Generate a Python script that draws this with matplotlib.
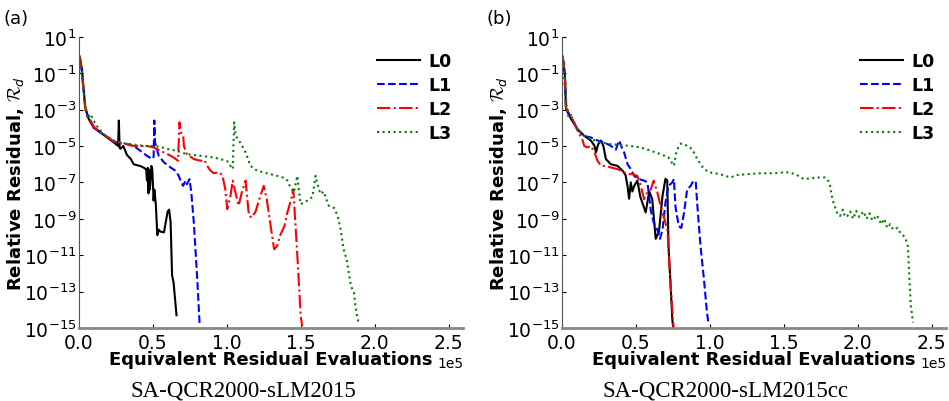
import numpy as np
import matplotlib
matplotlib.use('Agg')
import matplotlib.pyplot as plt

plt.rcParams['mathtext.fontset'] = 'custom'
plt.rcParams['mathtext.rm'] = 'DejaVu Sans'
plt.rcParams['mathtext.it'] = 'DejaVu Sans:italic'
plt.rcParams['mathtext.bf'] = 'DejaVu Sans:bold'
plt.rcParams['mathtext.cal'] = 'cmsy10'

# x in units of 1e5 residual evaluations, y as log10 of relative residual
# panel (a): SA-QCR2000-sLM2015
a_L0_x = [0.0, 0.01, 0.02, 0.043, 0.065, 0.1, 0.145, 0.19, 0.235, 0.265,
          0.27, 0.275, 0.28, 0.3, 0.325, 0.35, 0.37, 0.39, 0.415, 0.44,
          0.455, 0.46, 0.465, 0.47, 0.475, 0.48, 0.49, 0.495, 0.5, 0.505,
          0.51, 0.52, 0.53, 0.54, 0.55, 0.575, 0.6, 0.61, 0.62, 0.63,
          0.64, 0.66]
a_L0_y = [0.0, -0.3, -0.8, -2.9, -3.5, -4.0, -4.26, -4.53, -4.8, -5.0,
          -3.6, -5.1, -5.15, -5.0, -5.5, -5.7, -6.0, -6.05, -6.1, -6.2,
          -6.3, -6.9, -6.2, -7.6, -6.3, -7.4, -6.1, -6.2, -7.0, -8.0,
          -7.4, -8.2, -9.9, -9.6, -9.7, -9.75, -8.6, -8.5, -9.2, -12.1,
          -12.5, -14.3]
a_L1_x = [0.0, 0.01, 0.02, 0.043, 0.065, 0.1, 0.145, 0.19, 0.235, 0.28,
          0.325, 0.37, 0.415, 0.46, 0.495, 0.505, 0.51, 0.515, 0.52, 0.528,
          0.54, 0.575, 0.62, 0.653, 0.675, 0.687, 0.705, 0.72, 0.73, 0.748,
          0.76, 0.777, 0.8, 0.817]
a_L1_y = [0.0, -0.35, -0.9, -2.95, -3.45, -3.95, -4.25, -4.5, -4.75, -4.85,
          -4.9, -5.0, -5.26, -5.54, -5.72, -5.6, -3.6, -4.8, -5.0, -5.2,
          -5.54, -5.9, -6.18, -6.36, -6.64, -6.9, -7.19, -6.9, -7.1, -6.82,
          -7.55, -9.2, -12.3, -14.9]
a_L2_x = [0.0, 0.01, 0.02, 0.043, 0.065, 0.1, 0.145, 0.19, 0.235, 0.28,
          0.325, 0.37, 0.415, 0.46, 0.505, 0.55, 0.6, 0.64, 0.67, 0.68,
          0.69, 0.705, 0.71, 0.73, 0.777, 0.822, 0.85, 0.867, 0.89, 0.912,
          0.946, 0.97, 0.985, 0.99, 1.003, 1.025, 1.04, 1.06, 1.08, 1.1,
          1.127, 1.15, 1.17, 1.195, 1.217, 1.25, 1.27, 1.3, 1.32, 1.34,
          1.36, 1.39, 1.41, 1.436, 1.45, 1.46, 1.48, 1.5, 1.51]
a_L2_y = [0.0, -0.35, -0.9, -2.9, -3.4, -3.95, -4.25, -4.5, -4.75, -4.85,
          -4.9, -5.0, -5.0, -5.0, -5.08, -5.26, -5.45, -5.63, -5.81, -3.7,
          -4.26, -4.4, -5.0, -5.45, -5.72, -5.81, -5.78, -6.09, -6.36, -6.5,
          -6.45, -6.6, -7.19, -7.37, -8.47, -7.74, -6.9, -7.6, -8.28, -7.6,
          -6.9, -8.84, -8.93, -8.6, -8.0, -7.19, -7.92, -9.57, -10.67, -10.5,
          -9.93, -9.4, -8.65, -7.92, -7.37, -8.7, -11.4, -14.33, -14.9]
a_L3_x = [0.0, 0.01, 0.02, 0.043, 0.06, 0.077, 0.12, 0.167, 0.235, 0.3,
          0.37, 0.44, 0.505, 0.55, 0.6, 0.66, 0.73, 0.822, 0.912, 1.0,
          1.04, 1.05, 1.06, 1.09, 1.127, 1.16, 1.205, 1.25, 1.296, 1.34,
          1.387, 1.41, 1.43, 1.454, 1.477, 1.49, 1.5, 1.545, 1.58, 1.6,
          1.62, 1.635, 1.655, 1.69, 1.725, 1.75, 1.77, 1.79, 1.81, 1.84,
          1.86, 1.87, 1.89]
a_L3_y = [0.0, -0.4, -1.0, -3.0, -3.5, -3.25, -3.9, -4.35, -4.7, -4.84,
          -4.92, -5.0, -5.0, -5.05, -5.17, -5.26, -5.45, -5.54, -5.63, -5.81,
          -6.27, -3.7, -4.44, -4.8, -5.35, -6.09, -6.36, -6.45, -6.55, -6.64,
          -6.75, -6.9, -7.26, -7.55, -6.64, -7.6, -8.2, -8.0, -7.8, -6.64,
          -7.3, -7.64, -7.5, -8.28, -8.4, -8.84, -9.57, -10.67, -11.2, -12.7,
          -13.05, -13.8, -14.7]

# panel (b): SA-QCR2000-sLM2015cc
b_L0_x = [0.0, 0.01, 0.02, 0.027, 0.06, 0.105, 0.15, 0.195, 0.22, 0.23,
          0.245, 0.263, 0.28, 0.297, 0.33, 0.375, 0.41, 0.43, 0.443, 0.454,
          0.465, 0.476, 0.488, 0.51, 0.53, 0.566, 0.59, 0.61, 0.634, 0.656,
          0.68, 0.7, 0.712, 0.72, 0.735, 0.746, 0.755]
b_L0_y = [0.0, -0.4, -1.2, -2.97, -3.5, -4.07, -4.44, -4.7, -4.99, -5.35,
          -4.9, -4.7, -5.0, -5.72, -6.0, -6.09, -6.36, -6.6, -7.19, -7.9,
          -7.0, -7.5, -7.2, -6.9, -7.8, -8.65, -7.5, -7.9, -10.1, -9.7,
          -7.74, -6.8, -6.9, -10.4, -12.7, -14.5, -15.2]
b_L1_x = [0.0, 0.01, 0.02, 0.027, 0.06, 0.105, 0.15, 0.195, 0.24, 0.285,
          0.33, 0.364, 0.386, 0.4, 0.42, 0.443, 0.465, 0.488, 0.52, 0.555,
          0.578, 0.6, 0.62, 0.645, 0.663, 0.68, 0.7, 0.72, 0.746, 0.757,
          0.768, 0.79, 0.807, 0.825, 0.847, 0.87, 0.89, 0.905, 0.915, 0.937,
          0.96, 0.98, 0.99]
b_L1_y = [0.0, -0.4, -1.2, -2.95, -3.4, -4.1, -4.45, -4.53, -4.7, -4.8,
          -4.99, -5.2, -4.7, -5.0, -5.35, -6.0, -6.27, -6.64, -6.82, -6.9,
          -7.0, -8.5, -9.2, -9.6, -10.1, -9.6, -8.1, -7.2, -7.0, -6.82,
          -8.36, -9.4, -9.5, -8.7, -7.37, -7.2, -6.9, -7.0, -8.2, -10.5,
          -12.3, -14.1, -14.7]
b_L2_x = [0.0, 0.01, 0.02, 0.027, 0.06, 0.105, 0.14, 0.15, 0.173, 0.195,
          0.22, 0.24, 0.263, 0.297, 0.33, 0.375, 0.41, 0.443, 0.476, 0.51,
          0.533, 0.555, 0.578, 0.6, 0.62, 0.645, 0.667, 0.69, 0.714, 0.725,
          0.735, 0.746, 0.757]
b_L2_y = [0.0, -0.4, -1.2, -2.9, -3.3, -4.16, -4.7, -5.0, -5.08, -5.0,
          -5.35, -5.81, -6.09, -6.1, -6.18, -6.27, -6.4, -6.55, -6.55, -6.64,
          -7.19, -7.92, -7.55, -7.4, -6.9, -7.55, -8.28, -8.93, -9.66, -11.3,
          -12.7, -14.0, -15.2]
b_L3_x = [0.0, 0.008, 0.016, 0.038, 0.06, 0.105, 0.15, 0.195, 0.263, 0.33,
          0.4, 0.465, 0.533, 0.6, 0.667, 0.72, 0.757, 0.77, 0.79, 0.807,
          0.847, 0.88, 0.915, 0.96, 1.0, 1.07, 1.14, 1.18, 1.25, 1.34,
          1.43, 1.5, 1.54, 1.59, 1.635, 1.68, 1.72, 1.78, 1.81, 1.825,
          1.836, 1.86, 1.88, 1.9, 1.915, 1.93, 1.95, 1.97, 1.99, 2.01,
          2.04, 2.06, 2.08, 2.1, 2.13, 2.16, 2.18, 2.2, 2.22, 2.24,
          2.27, 2.29, 2.32, 2.34, 2.35, 2.36, 2.375]
b_L3_y = [0.0, -0.5, -1.5, -3.34, -3.3, -4.1, -4.44, -4.62, -4.8, -4.9,
          -4.95, -5.0, -5.08, -5.26, -5.45, -5.63, -6.09, -5.45, -4.99, -4.86,
          -4.99, -5.17, -5.72, -6.27, -6.45, -6.55, -6.73, -6.6, -6.55, -6.5,
          -6.5, -6.45, -6.45, -6.6, -6.82, -6.78, -6.73, -6.73, -7.0, -7.74,
          -8.1, -8.65, -8.85, -8.5, -8.9, -8.85, -8.6, -9.0, -8.56, -8.9,
          -8.6, -9.0, -8.7, -9.1, -8.8, -9.3, -9.0, -9.5, -9.3, -9.6,
          -9.5, -9.8, -10.0, -10.5, -12.3, -13.8, -14.7]

labels = ['L0', 'L1', 'L2', 'L3']
colors = ['black', 'blue', 'red', 'green']
styles = ['-', '--', '-.', ':']
panels = [
    ('(a)', 'SA-QCR2000-sLM2015',
     [(a_L0_x, a_L0_y), (a_L1_x, a_L1_y), (a_L2_x, a_L2_y), (a_L3_x, a_L3_y)]),
    ('(b)', 'SA-QCR2000-sLM2015cc',
     [(b_L0_x, b_L0_y), (b_L1_x, b_L1_y), (b_L2_x, b_L2_y), (b_L3_x, b_L3_y)]),
]

fig = plt.figure(figsize=(9.49, 4.02), dpi=100)
axes = [fig.add_axes([0.0832, 0.1816, 0.405, 0.7244]),
        fig.add_axes([0.5922, 0.1816, 0.405, 0.7244])]
tag_x = [0.004, 0.513]
cap_x = [0.271, 0.780]

for ax, (tag, caption, series), tx, cx in zip(axes, panels, tag_x, cap_x):
    for (xs, ys), lab, c, ls in zip(series, labels, colors, styles):
        ax.plot(np.array(xs) * 1e5, 10.0 ** np.array(ys), color=c, linestyle=ls,
                linewidth=1.5, label=lab)
    ax.set_yscale('log')
    ax.set_ylim(1e-15, 1e1)
    ax.set_xlim(0, 2.6e5)
    ax.set_yticks([10.0 ** k for k in range(1, -16, -2)])
    ax.minorticks_off()
    ax.set_xticks([0, 0.5e5, 1.0e5, 1.5e5, 2.0e5, 2.5e5])
    ax.ticklabel_format(axis='x', style='sci', scilimits=(0, 0))
    ax.tick_params(direction='in', length=3, labelsize=13.5, pad=2)
    ax.tick_params(axis='x', pad=3.5)
    ax.xaxis.get_offset_text().set_fontsize(10)
    for s in ['top', 'right']:
        ax.spines[s].set_visible(False)
    ax.spines['left'].set_color('#555555')
    ax.spines['bottom'].set_color('#888888')
    ax.spines['bottom'].set_linewidth(2)
    ax.set_xlabel('Equivalent Residual Evaluations', fontsize=13,
                  fontweight='bold', labelpad=-1)
    ax.set_ylabel(r'Relative Residual, $\mathcal{R}_d$', fontsize=13,
                  fontweight='bold', labelpad=-2)
    ax.legend(loc='upper left', bbox_to_anchor=(0.775, 0.948), frameon=False,
              prop={'weight': 'bold', 'size': 12.5}, handlelength=2.5,
              labelspacing=0.34, borderpad=0, borderaxespad=0, handletextpad=0.45)
    fig.text(tx, 0.975, tag, fontsize=13, va='top', ha='left')
    fig.text(cx - 0.015, 0.014, caption, fontsize=16.5, ha='center', va='baseline',
             family='Liberation Serif')

fig.savefig('out.png', dpi=100)
